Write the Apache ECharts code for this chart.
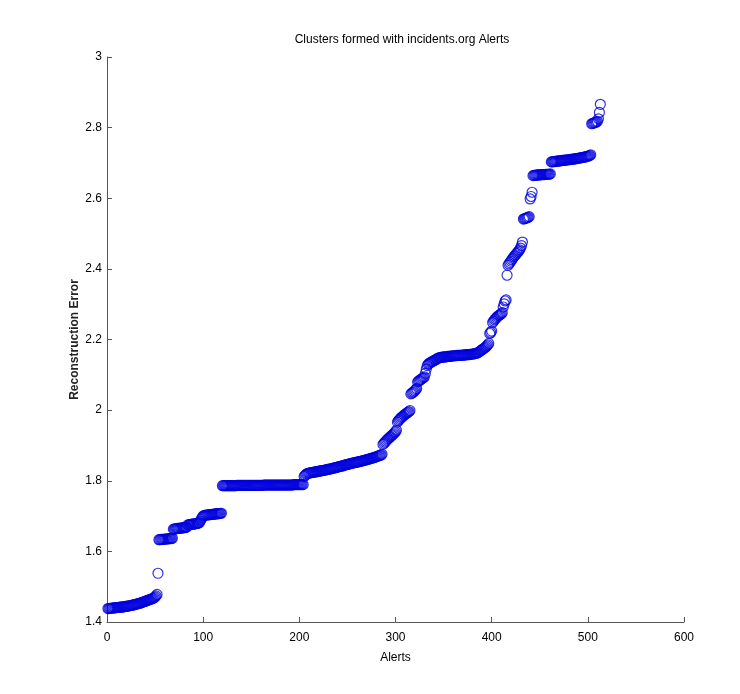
<!DOCTYPE html>
<html>
<head>
<meta charset="utf-8">
<script src="https://cdn.jsdelivr.net/npm/echarts@6/dist/echarts.min.js"></script>
<style>
	html, body { margin: 0; padding: 0; background: #ffffff; }
	#chart { width: 740px; height: 694px; }
</style>
</head>
<body>
<div id="chart"></div>
<script>
	// sorted reconstruction error per alert, alert index = position + 1
	var lowBand = [1.438,1.438,1.439,1.439,1.439,1.440,1.440,1.440,1.440,1.441,
		1.441,1.441,1.442,1.442,1.442,1.443,1.443,1.443,1.444,1.444,
		1.445,1.445,1.446,1.446,1.447,1.447,1.448,1.449,1.449,1.450,
		1.451,1.452,1.452,1.453,1.454,1.455,1.456,1.457,1.458,1.459,
		1.460,1.461,1.462,1.463,1.464,1.465,1.466,1.467,1.469,1.471,1.474,1.478];
	var outlierA = [1.538];
	var band163 = [1.633,1.633,1.634,1.634,1.634,1.634,1.635,1.635,1.635,1.635,1.636,1.636,1.636,1.636,1.637];
	var band166 = [1.663,1.663,1.664,1.664,1.665,1.665,1.665,1.666,1.666,1.666,1.667,1.667,1.667,1.668,1.669];
	var band168 = [1.675,1.675,1.676,1.676,1.677,1.677,1.677,1.678,1.678,1.679,1.679,1.680,1.681];
	var step170 = [1.686,1.691,1.696,1.700];
	var band170 = [1.702,1.702,1.703,1.703,1.703,1.704,1.704,1.704,1.705,1.705,1.705,1.706,1.706,1.706,1.707,1.707,1.707,1.708,1.708];
	var band178 = [1.786,1.786,1.786,1.786,1.786,1.786,1.786,1.786,1.786,1.786,
		1.786,1.786,1.786,1.786,1.786,1.787,1.787,1.787,1.787,1.787,
		1.787,1.787,1.787,1.787,1.787,1.787,1.787,1.787,1.787,1.787,
		1.787,1.787,1.787,1.787,1.787,1.787,1.787,1.787,1.787,1.787,
		1.787,1.787,1.787,1.788,1.788,1.788,1.788,1.788,1.788,1.788,
		1.788,1.788,1.788,1.788,1.788,1.788,1.788,1.788,1.788,1.788,
		1.788,1.788,1.788,1.788,1.788,1.788,1.788,1.788,1.788,1.788,
		1.788,1.788,1.788,1.788,1.789,1.789,1.789,1.789,1.789,1.789,
		1.789,1.789,1.789,1.789,1.789];
	var rise182 = [1.812,1.815,1.818,1.820,1.821,1.822,1.822,1.823,1.823,1.824,
		1.824,1.825,1.825,1.826,1.826,1.827,1.827,1.828,1.828,1.829,
		1.829,1.830,1.830,1.831,1.832,1.832,1.833,1.833,1.834,1.835,
		1.835,1.836,1.837,1.837,1.838,1.839,1.840,1.840,1.841,1.842,
		1.842,1.843,1.844,1.845,1.846,1.846,1.847,1.848,1.848,1.849,
		1.850,1.850,1.851,1.852,1.852,1.853,1.853,1.854,1.855,1.855,
		1.856,1.857,1.857,1.858,1.859,1.860,1.860,1.861,1.862,1.863,
		1.864,1.864,1.865,1.866,1.867,1.868,1.869,1.870,1.871,1.872,1.873,1.875];
	var band190 = [1.903,1.906,1.909,1.912,1.915,1.918,1.920,1.923,1.925,1.928,1.930,1.933,1.936,1.939,1.943];
	var band197 = [1.966,1.970,1.973,1.976,1.979,1.981,1.983,1.986,1.988,1.990,1.992,1.994,1.996,1.999];
	var band205 = [2.046,2.048,2.050,2.052,2.055,2.058,2.061];
	var band208 = [2.080,2.082,2.084,2.086,2.088,2.090,2.092,2.094];
	var step210 = [2.104,2.116,2.126];
	var band213 = [2.130,2.132,2.134,2.136,2.137,2.139,2.140,2.142,2.143,2.145,2.146,2.148];
	var band215 = [2.149,2.149,2.150,2.150,2.150,2.151,2.151,2.151,2.152,2.152,
		2.152,2.153,2.153,2.153,2.154,2.154,2.154,2.154,2.155,2.155,
		2.155,2.155,2.155,2.156,2.156,2.156,2.156,2.157,2.157,2.157,
		2.157,2.158,2.158,2.158,2.159,2.159,2.160,2.160,2.161,2.162];
	var rise218 = [2.163,2.165,2.167,2.169,2.171,2.173,2.175,2.177,2.179,2.182,2.185,2.189];
	var band222 = [2.217,2.220,2.224];
	var band226 = [2.248,2.252,2.256,2.259,2.262,2.265,2.267,2.269,2.271,2.273,2.276];
	var band230 = [2.292,2.301,2.309,2.312];
	var outlierB = [2.382];
	var band244 = [2.410,2.414,2.418,2.422,2.426,2.430,2.434,2.437,2.440,2.444,2.447,2.450,2.454,2.459,2.466,2.476];
	var band254 = [2.541,2.542,2.543,2.544,2.545,2.546,2.548];
	var band260 = [2.598,2.605,2.617];
	var band266 = [2.664,2.665,2.665,2.665,2.666,2.666,2.666,2.666,2.667,2.667,2.667,2.667,2.667,2.668,2.668,2.668,2.668,2.668,2.669];
	var band271 = [2.703,2.703,2.704,2.704,2.704,2.705,2.705,2.705,2.706,2.706,
		2.706,2.707,2.707,2.707,2.708,2.708,2.708,2.709,2.709,2.709,
		2.710,2.710,2.711,2.711,2.711,2.712,2.712,2.713,2.713,2.714,
		2.714,2.715,2.715,2.716,2.716,2.717,2.718,2.718,2.719,2.720,2.721,2.723];
	var band281 = [2.811,2.812,2.813,2.814,2.815,2.816,2.818];
	var topPoints = [2.825,2.843,2.866];

	var xTicks = [0, 100, 200, 300, 400, 500, 600];
	var yTicks = [1.4, 1.6, 1.8, 2, 2.2, 2.4, 2.6, 2.8, 3];

	var errors = [].concat(lowBand, outlierA, band163, band166, band168, step170, band170, band178,
		rise182, band190, band197, band205, band208, step210, band213, band215, rise218,
		band222, band226, band230, outlierB, band244, band254, band260, band266, band271,
		band281, topPoints);
	var points = errors.map(function (v, i) { return [i + 1, v]; });

	var chart = echarts.init(document.getElementById('chart'));
	var axisColor = '#555555';
	var font = 'Liberation Sans, Arial, sans-serif';
	var option = {
		backgroundColor: '#ffffff',
		animation: false,
		title: {
			text: 'Clusters formed with incidents.org Alerts',
			left: 397,
			textAlign: 'center',
			top: 29,
			textStyle: { fontSize: 12, fontWeight: 'normal', color: '#000', fontFamily: font }
		},
		grid: { left: 107, right: 56, top: 57, bottom: 72 },
		xAxis: {
			type: 'value',
			min: xTicks[0],
			max: xTicks[xTicks.length - 1],
			interval: 100,
			name: 'Alerts',
			nameLocation: 'middle',
			nameGap: 30,
			nameMoveOverlap: false,
			nameTextStyle: { fontSize: 12, color: '#000', fontFamily: font },
			axisLine: { lineStyle: { color: axisColor } },
			axisTick: { inside: true, length: 5, lineStyle: { color: axisColor } },
			axisLabel: { fontSize: 12, color: '#000', margin: 10, fontFamily: font },
			splitLine: { show: false }
		},
		yAxis: {
			type: 'value',
			min: yTicks[0],
			max: yTicks[yTicks.length - 1],
			interval: 0.2,
			name: 'Reconstruction Error',
			nameLocation: 'middle',
			nameGap: 26,
			nameMoveOverlap: false,
			nameTextStyle: { fontSize: 12, fontWeight: 'bold', color: '#222', fontFamily: font },
			axisLine: { show: true, lineStyle: { color: axisColor } },
			axisTick: { show: true, inside: true, length: 5, lineStyle: { color: axisColor } },
			axisLabel: { fontSize: 12, color: '#000', margin: 5, fontFamily: font },
			splitLine: { show: false }
		},
		series: [{
			type: 'scatter',
			data: points,
			symbol: 'circle',
			symbolSize: 10,
			itemStyle: { color: 'rgba(0,0,0,0)', borderColor: '#0000dd', borderWidth: 1.2 }
		}]
	};
	chart.setOption(option);
</script>
</body>
</html>
